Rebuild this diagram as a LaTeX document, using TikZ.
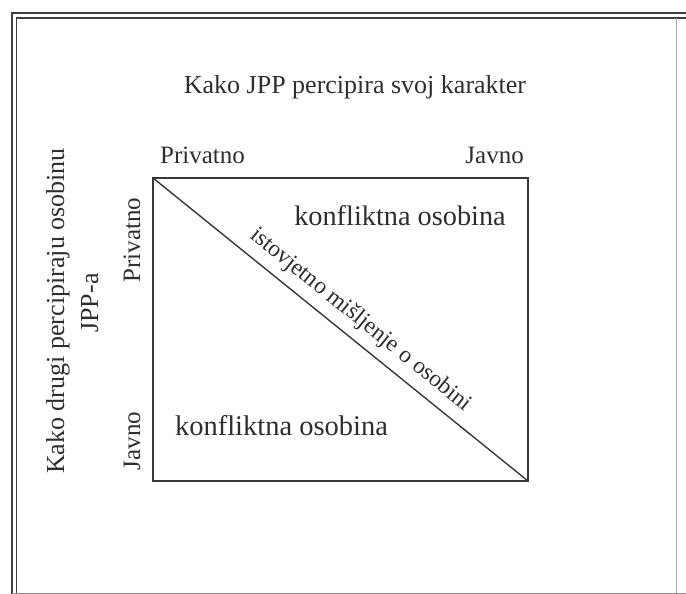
\documentclass[tikz,border=0pt]{standalone}
\usepackage{fontspec}
\setmainfont{Liberation Serif}
\begin{document}
\begin{tikzpicture}[x=1pt,y=-1pt,
  lbl/.style={text=black!82, inner sep=0pt},
  frameline/.style={draw=black!75, line width=1.3pt},
  boxline/.style={draw=black!78, line width=1.4pt}]
\useasboundingbox (0,0) rectangle (686,594);
% outer frame
\draw[frameline] (12,594) -- (12,13) -- (686,13);
\draw[frameline] (16.5,594) -- (16.5,18) -- (686,18);
\draw[draw=black!35, line width=0.8pt] (676,18) -- (676,593);
\draw[draw=black!45, line width=0.9pt] (12,593) -- (686,593);
% inner matrix
\coordinate (tl) at (153,178);
\coordinate (br) at (528,481);
\draw[boxline] (tl) rectangle (br);
\draw[boxline] (tl) -- node[lbl, pos=0.52, sloped, above, anchor=south, inner sep=8.5pt, font=\fontsize{23.5}{27}\selectfont] (diag) {istovjetno mišljenje o osobini} (br);
% labels
\node[lbl, anchor=base, font=\fontsize{26}{30}\selectfont] (title) at (355,94) {Kako JPP percipira svoj karakter};
\node[lbl, anchor=base west, font=\fontsize{25}{30}\selectfont] (tp) at (160,163) {Privatno};
\node[lbl, anchor=base east, font=\fontsize{25}{30}\selectfont] (tj) at (524,163) {Javno};
\node[lbl, anchor=base, font=\fontsize{28.3}{32}\selectfont] (k1) at (400,225) {konfliktna osobina};
\node[lbl, anchor=base, font=\fontsize{28.5}{32}\selectfont] (k2) at (281.5,435) {konfliktna osobina};
\node[lbl, anchor=base, rotate=90, font=\fontsize{26}{30}\selectfont] (ly1) at (64,311) {Kako drugi percipiraju osobinu};
\node[lbl, anchor=base, rotate=90, font=\fontsize{26}{30}\selectfont] (ly2) at (98,303) {JPP-a};
\node[lbl, anchor=base, rotate=90, font=\fontsize{25}{30}\selectfont] (lp) at (140,240) {Privatno};
\node[lbl, anchor=base, rotate=90, font=\fontsize{25}{30}\selectfont] (lj) at (140,441) {Javno};
\end{tikzpicture}
\end{document}
